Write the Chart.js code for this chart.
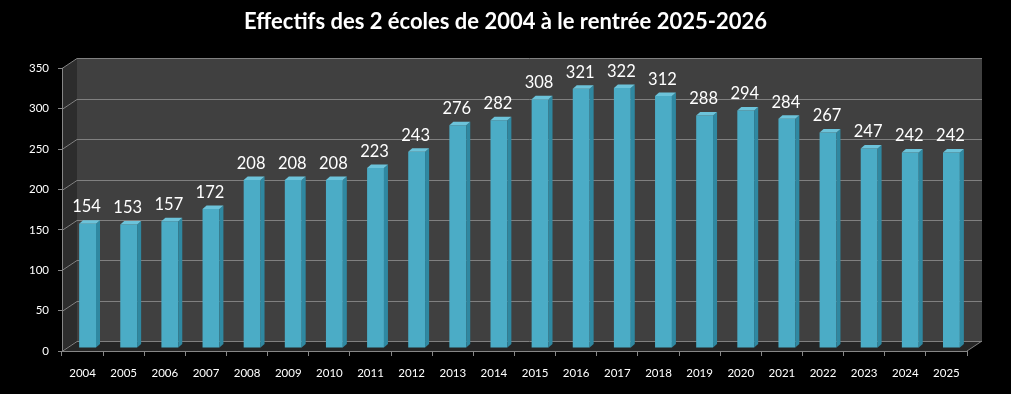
<!DOCTYPE html>
<html>
<head>
<meta charset="utf-8">
<script src="https://cdn.jsdelivr.net/npm/chart.js@4.4.1/dist/chart.umd.min.js"></script>
<style>
  html, body { margin: 0; padding: 0; background: #000; }
  #chart { display: block; background: #000; }
</style>
</head>
<body>
<canvas id="chart" width="1011" height="394"></canvas>
<script>
// Data
const years = ['2004', '2005', '2006', '2007', '2008', '2009', '2010', '2011', '2012', '2013', '2014',
    '2015', '2016', '2017', '2018', '2019', '2020', '2021', '2022', '2023', '2024', '2025'];
const effectifs = [154, 153, 157, 172, 208, 208, 208, 223, 243, 276, 282,
    308, 321, 322, 312, 288, 294, 284, 267, 247, 242, 242];
const yMin = 0;
const yMax = 350;
const yStep = 50;
const titleText = 'Effectifs des 2 écoles de 2004 à le rentrée 2025-2026';

// fake 3D offsets
const wallDepth = { dx: 15, dy: -10 };
const barShift = { dx: 5, dy: -3 };
const barSide = { dx: 4, dy: -3.5 };

const FONT = 'Lato, "Open Sans", sans-serif';

function poly(ctx, pts, fill) {
    ctx.beginPath();
    ctx.moveTo(pts[0][0], pts[0][1]);
    for (let i = 1; i < pts.length; i++) ctx.lineTo(pts[i][0], pts[i][1]);
    ctx.closePath();
    ctx.fillStyle = fill;
    ctx.fill();
}

const wallsPlugin = {
    id: 'walls',
    beforeDraw(chart) {
        const { ctx, chartArea: a, scales: { y } } = chart;
        const dx = wallDepth.dx, dy = wallDepth.dy;
        ctx.save();
        // back wall
        poly(ctx, [[a.left + dx, a.top + dy], [a.right + dx, a.top + dy],
            [a.right + dx, a.bottom + dy], [a.left + dx, a.bottom + dy]], '#404040');
        // side wall
        poly(ctx, [[a.left, a.top], [a.left + dx, a.top + dy],
            [a.left + dx, a.bottom + dy], [a.left, a.bottom]], '#2d2d2d');
        // floor
        poly(ctx, [[a.left, a.bottom], [a.left + dx, a.bottom + dy],
            [a.right + dx, a.bottom + dy], [a.right, a.bottom]], '#262626');

        ctx.strokeStyle = '#808080';
        ctx.lineWidth = 1;
        y.ticks.forEach(t => {
            const py = Math.round(y.getPixelForValue(t.value)) + 0.5;
            ctx.beginPath();
            ctx.moveTo(a.left, py);
            ctx.lineTo(a.left + dx, py + dy);
            ctx.lineTo(a.right + dx, py + dy);
            ctx.stroke();
        });
        ctx.beginPath();
        ctx.moveTo(a.right, a.bottom);
        ctx.lineTo(a.right + dx, a.bottom + dy);
        ctx.stroke();
        ctx.restore();
    }
};

const bars3dPlugin = {
    id: 'bars3d',
    beforeDatasetDraw(chart) {
        chart.ctx.save();
        chart.ctx.translate(barShift.dx, barShift.dy);
    },
    afterDatasetDraw(chart, args) {
        const ctx = chart.ctx;
        const meta = args.meta;
        meta.data.forEach(el => {
            const p = el.getProps(['x', 'y', 'base', 'width'], true);
            const l = p.x - p.width / 2, r = p.x + p.width / 2;
            // side face
            poly(ctx, [[r, p.y], [r + barSide.dx, p.y + barSide.dy],
                [r + barSide.dx, p.base + barSide.dy], [r, p.base]], '#2f88a1');
            // top face
            poly(ctx, [[l, p.y], [l + barSide.dx, p.y + barSide.dy],
                [r + barSide.dx, p.y + barSide.dy], [r, p.y]], '#6cc3da');
        });
        ctx.restore();
    },
    afterDatasetsDraw(chart) {
        const ctx = chart.ctx;
        const meta = chart.getDatasetMeta(0);
        ctx.save();
        ctx.fillStyle = '#ffffff';
        ctx.font = '16.5px ' + FONT;
        ctx.textAlign = 'center';
        ctx.textBaseline = 'middle';
        meta.data.forEach((el, i) => {
            const p = el.getProps(['x', 'y'], true);
            ctx.fillText(String(effectifs[i]), p.x + barShift.dx - 1, p.y + barShift.dy - 16.5);
        });
        ctx.restore();
    }
};

new Chart(document.getElementById('chart'), {
    type: 'bar',
    data: {
        labels: years,
        datasets: [{
            data: effectifs,
            backgroundColor: '#4bacc6',
            borderWidth: 0,
            barPercentage: 0.41,
            categoryPercentage: 1.0
        }]
    },
    options: {
        responsive: false,
        animation: false,
        layout: { padding: 0 },
        plugins: {
            legend: { display: false },
            tooltip: { enabled: false },
            title: {
                display: true,
                text: titleText,
                color: '#ffffff',
                font: { family: FONT, size: 22, weight: 'bold' },
                padding: { top: 9, bottom: 33 }
            }
        },
        scales: {
            x: {
                grid: { display: true, drawOnChartArea: false, drawTicks: true, tickLength: 5, color: '#868686' },
                border: { display: true, color: '#868686' },
                ticks: {
                    color: '#ffffff',
                    font: { family: FONT, size: 11.5 },
                    padding: 10,
                    maxRotation: 0,
                    autoSkip: false
                },
                afterFit(scale) { scale.height = 43; }
            },
            y: {
                min: yMin,
                max: yMax,
                grid: { display: true, drawOnChartArea: false, drawTicks: true, tickLength: 4, color: '#868686' },
                border: { display: true, color: '#868686' },
                ticks: {
                    stepSize: yStep,
                    color: '#ffffff',
                    font: { family: FONT, size: 11.5 },
                    padding: 9
                },
                afterFit(scale) { scale.width = 62; }
            },
            // empty right-hand axis, only reserves the blank margin on the right
            yRight: {
                position: 'right',
                min: yMin,
                max: yMax,
                grid: { display: false },
                border: { display: false },
                ticks: { display: false },
                afterFit(scale) { scale.width = 44; }
            }
        }
    },
    plugins: [wallsPlugin, bars3dPlugin]
});
</script>
</body>
</html>
